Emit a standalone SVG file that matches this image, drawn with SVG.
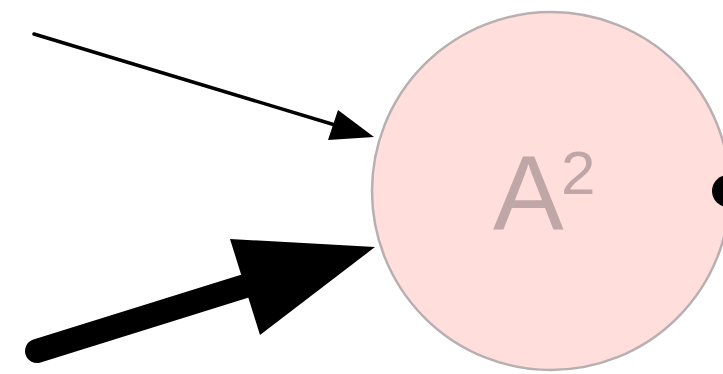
<svg xmlns="http://www.w3.org/2000/svg" width="723" height="374" viewBox="0 0 723 374">
<style>
.node{fill:#ffdedb;stroke:#b8b0b0;stroke-width:2.5}
.lbl{font-family:"Liberation Sans",Arial,sans-serif;fill:#c0a7a7}
.edge{stroke:#000;fill:none}
</style>
<rect width="723" height="374" fill="#fff"/>
<g id="A2">
<circle class="node" cx="551" cy="191" r="179"/>
<text class="lbl" x="493" y="229" font-size="106">A</text>
<text class="lbl" x="561" y="194" font-size="62">2</text>
</g>
<g id="connectors">
<line class="edge" x1="34" y1="34" x2="335" y2="125" stroke-width="3.5" stroke-linecap="round"/>
<polygon points="374,137 338,110 328,140" fill="#000"/>
<line class="edge" x1="37" y1="351" x2="255" y2="283" stroke-width="24" stroke-linecap="round"/>
<polygon points="375,247 230,239 260,335" fill="#000"/>
<circle cx="728" cy="191" r="16" fill="#000"/>
</g>
</svg>
